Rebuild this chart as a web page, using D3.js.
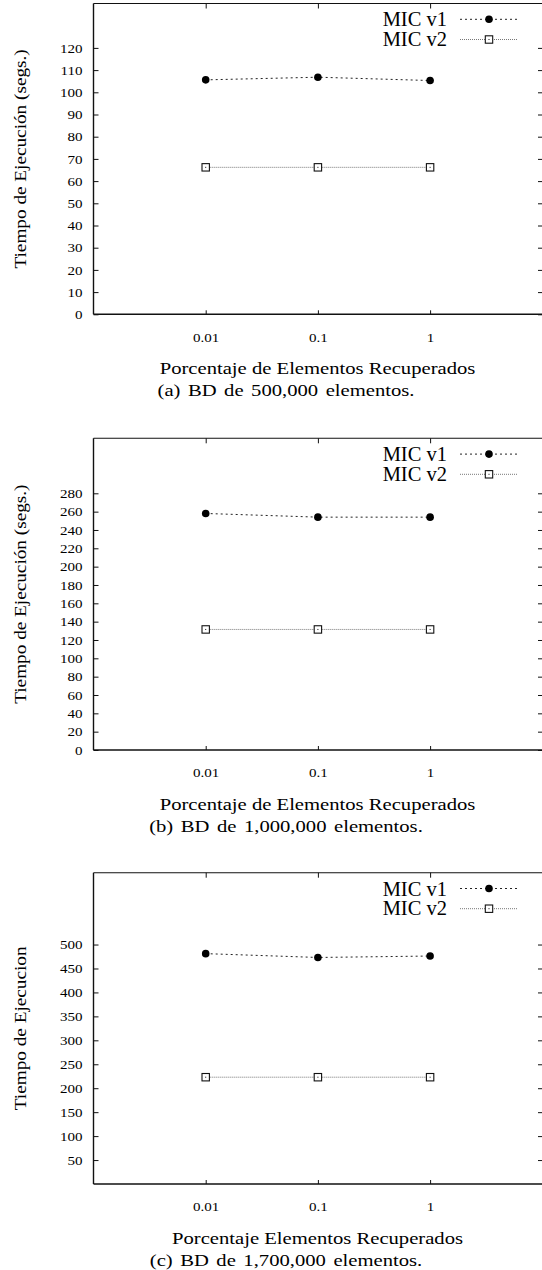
<!DOCTYPE html>
<html>
<head>
<meta charset="utf-8">
<script src="https://cdn.jsdelivr.net/npm/d3@7"></script>
<style>
body { margin: 0; background: #fff; }
text { font-family: "Liberation Serif", "Times New Roman", serif; fill: #000; }
</style>
</head>
<body>
<div id="chart-area"></div>
<script>
// data
var xValues = [0.01, 0.1, 1];
var xTickLabels = ["0.01", "0.1", "1"];
var seriesNames = ["MIC v1", "MIC v2"];

var micV1_500k = [105.6, 106.8, 105.3];
var micV2_500k = [66.2, 66.2, 66.2];
var micV1_1000k = [258, 254, 254];
var micV2_1000k = [131.5, 131.5, 131.5];
var micV1_1700k = [481, 473, 476];
var micV2_1700k = [223, 223, 223];

var yTicks_500k = [0, 10, 20, 30, 40, 50, 60, 70, 80, 90, 100, 110, 120];
var yTicks_1000k = [0, 20, 40, 60, 80, 100, 120, 140, 160, 180, 200, 220, 240, 260, 280];
var yTicks_1700k = [50, 100, 150, 200, 250, 300, 350, 400, 450, 500];

var yLabels = ["Tiempo de Ejecución (segs.)", "Tiempo de Ejecución (segs.)", "Tiempo de Ejecucion"];
var xLabels = ["Porcentaje de Elementos Recuperados", "Porcentaje de Elementos Recuperados", "Porcentaje Elementos Recuperados"];
var captions = ["(a) BD de 500,000 elementos.", "(b) BD de 1,000,000 elementos.", "(c) BD de 1,700,000 elementos."];
var yMaxes = [140, 340, 650];

var panels = [
	{v1: micV1_500k, v2: micV2_500k, ticks: yTicks_500k, top: 3.5, bottom: 314.3},
	{v1: micV1_1000k, v2: micV2_1000k, ticks: yTicks_1000k, top: 438.3, bottom: 750},
	{v1: micV1_1700k, v2: micV2_1700k, ticks: yTicks_1700k, top: 872.7, bottom: 1184}
];

var width = 542;
var height = 1270;
var left = 93.5;
var right = 542.3;

var svg = d3.select("#chart-area").append("svg")
	.attr("width", width)
	.attr("height", height);

var x = d3.scaleLog()
	.domain([0.001, 10])
	.range([left, right]);

// text helper, the figure's fonts are a bit wider than plain Times
function label(g, tx, ty, str, size, sx, anchor, rot) {
	return g.append("text")
		.attr("transform", "translate(" + tx + "," + ty + ")" + (rot ? " rotate(" + rot + ")" : "") + " scale(" + sx + ",1)")
		.attr("font-size", size + "px")
		.attr("text-anchor", anchor)
		.text(str);
}

function square(g, cx, cy) {
	g.append("rect")
		.attr("x", cx - 3.7).attr("y", cy - 3.7)
		.attr("width", 7.4).attr("height", 7.4)
		.attr("fill", "#fff").attr("stroke", "#111").attr("stroke-width", 1.1);
	g.append("rect")
		.attr("x", cx - 0.5).attr("y", cy - 0.5)
		.attr("width", 1).attr("height", 1)
		.attr("fill", "#111");
}

var tickSx = 1.16;

panels.forEach(function(p, i) {
	var g = svg.append("g");
	var y = d3.scaleLinear()
		.domain([0, yMaxes[i]])
		.range([p.bottom, p.top]);

	// left axis, ticks pointing inward
	var leftAxis = d3.axisLeft(y)
		.tickValues(p.ticks)
		.tickSizeInner(-5)
		.tickSizeOuter(0)
		.tickPadding(11);
	var la = g.append("g")
		.attr("transform", "translate(" + left + ",0)")
		.call(leftAxis);
	la.select(".domain").remove();
	la.selectAll("line").attr("stroke", "#111");
	la.selectAll("text")
		.attr("font-size", "13px")
		.attr("font-family", "Liberation Serif")
		.attr("fill", "#000")
		.attr("x", -11 / tickSx)
		.attr("transform", "scale(" + tickSx + ",1)");

	var rightAxis = d3.axisRight(y)
		.tickValues(p.ticks)
		.tickSizeInner(-4)
		.tickSizeOuter(0)
		.tickFormat("");
	var ra = g.append("g")
		.attr("transform", "translate(" + 542 + ",0)")
		.call(rightAxis);
	ra.select(".domain").remove();
	ra.selectAll("line").attr("stroke", "#111");

	var bottomAxis = d3.axisBottom(x)
		.tickValues(xValues)
		.tickFormat(function(d, k) { return xTickLabels[k]; })
		.tickSizeInner(-4)
		.tickSizeOuter(0);
	var ba = g.append("g")
		.attr("transform", "translate(0," + p.bottom + ")")
		.call(bottomAxis);
	ba.select(".domain").remove();
	ba.selectAll("line").attr("stroke", "#111");
	ba.selectAll("text")
		.attr("font-size", "13px")
		.attr("font-family", "Liberation Serif")
		.attr("fill", "#000")
		.attr("y", 0)
		.attr("dy", 0)
		.attr("transform", "translate(0,27.3) scale(" + tickSx + ",1)");

	var topAxis = d3.axisTop(x)
		.tickValues(xValues)
		.tickFormat("")
		.tickSizeInner(-5)
		.tickSizeOuter(0);
	var ta = g.append("g")
		.attr("transform", "translate(0," + p.top + ")")
		.call(topAxis);
	ta.select(".domain").remove();
	ta.selectAll("line").attr("stroke", "#111");

	// frame
	g.append("line").attr("x1", left).attr("x2", 545).attr("y1", p.top).attr("y2", p.top)
		.attr("stroke", "#111").attr("stroke-width", 1.1);
	g.append("line").attr("x1", left).attr("x2", left).attr("y1", p.top).attr("y2", p.bottom)
		.attr("stroke", "#111").attr("stroke-width", 1.4);
	g.append("line").attr("x1", left).attr("x2", 545).attr("y1", p.bottom).attr("y2", p.bottom)
		.attr("stroke", "#111").attr("stroke-width", 1.6);

	var d1 = xValues.map(function(v, k) { return {x: v, y: p.v1[k]}; });
	var d2 = xValues.map(function(v, k) { return {x: v, y: p.v2[k]}; });
	var line = d3.line()
		.x(function(d) { return x(d.x); })
		.y(function(d) { return y(d.y); });

	g.append("path").datum(d2)
		.attr("d", line)
		.attr("fill", "none")
		.attr("stroke", "#777")
		.attr("stroke-width", 1)
		.attr("stroke-dasharray", "1,1");
	g.append("path").datum(d1)
		.attr("d", line)
		.attr("fill", "none")
		.attr("stroke", "#222")
		.attr("stroke-width", 1)
		.attr("stroke-dasharray", "2,3");

	g.selectAll(".dot").data(d1).enter()
		.append("circle")
		.attr("cx", function(d) { return x(d.x); })
		.attr("cy", function(d) { return y(d.y); })
		.attr("r", 3.8)
		.attr("fill", "#000");
	d2.forEach(function(d) { square(g, x(d.x), y(d.y)); });

	// legend
	var b1 = p.top + 22.8;
	var b2 = p.top + 42.5;
	label(g, 447, b1, seriesNames[0], 20.5, 1, "end");
	label(g, 447, b2, seriesNames[1], 20.5, 1, "end");
	g.append("line").attr("x1", 460).attr("x2", 518).attr("y1", b1 - 7).attr("y2", b1 - 7)
		.attr("stroke", "#222").attr("stroke-dasharray", "2,3");
	g.append("circle").attr("cx", 489).attr("cy", b1 - 7).attr("r", 3.8).attr("fill", "#000");
	g.append("line").attr("x1", 460).attr("x2", 518).attr("y1", b2 - 6.5).attr("y2", b2 - 6.5)
		.attr("stroke", "#777").attr("stroke-dasharray", "1,1");
	square(g, 489, b2 - 6.5);

	// axis titles and caption
	label(g, 317.5, p.bottom + 59.5, xLabels[i], 17.5, 1.18, "middle");
	label(g, 286, p.bottom + 82, captions[i], 17.5, 1.18, "middle")
		.attr("word-spacing", "2px");
	label(g, 26, (p.top + p.bottom) / 2, yLabels[i], 17.5, 1.1, "middle", -90);
});
</script>
</body>
</html>
